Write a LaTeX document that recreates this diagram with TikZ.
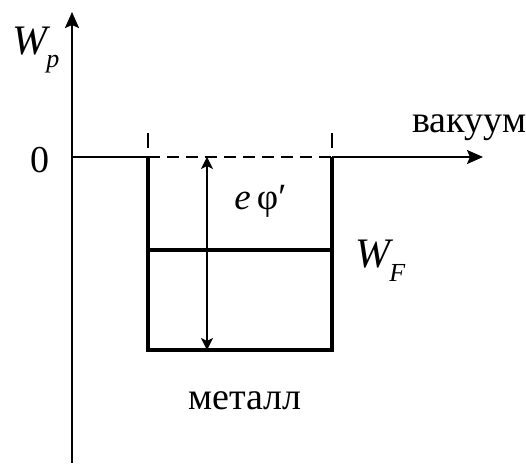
\documentclass[tikz,border=0pt]{standalone}
\usepackage{fontspec}
\setmainfont{Liberation Serif}
\usetikzlibrary{positioning, arrows.meta}
\newcommand{\lowidx}[2]{\raisebox{-#1}{\fontsize{13}{13}\selectfont\itshape #2}}

\begin{document}
\begin{tikzpicture}[
  x=0.5pt, y=-0.5pt,
  axis/.style={line width=1pt, -{Stealth[length=8pt, width=7pt, inset=1.5pt]}},
  wall/.style={line width=2pt},
  lbl/.style={inner sep=0pt, font=\fontsize{19}{22}\selectfont},
  sym/.style={inner sep=0pt, font=\fontsize{21}{24}\selectfont\itshape},
  ar/.style={line width=0.7pt,
             {Stealth[length=6pt, width=6pt, inset=1.5pt]}-{Stealth[length=6pt, width=6pt, inset=1.5pt]}},
]
  \useasboundingbox (0,0) rectangle (526,465);
  % axes
  \coordinate (o) at (72,157);
  \coordinate (ytop) at (72,12);
  \coordinate (ybot) at (72,463);
  \coordinate (xend) at (483,157);
  % well
  \coordinate (wl) at (148,157);
  \coordinate (wr) at (332,157);
  \coordinate (bl) at (148,350);
  \coordinate (br) at (332,350);
  \coordinate (fl) at (148,250);
  \coordinate (fr) at (330,250);
  \coordinate (tl) at (148,133);
  \coordinate (tlb) at (148,148);
  \coordinate (tr) at (332,133);
  \coordinate (trb) at (332,148);
  \coordinate (atop) at (207,157);
  \coordinate (abot) at (207,350);

  \draw[axis] (ybot) -- (ytop);
  \draw[line width=1pt] (o) -- (wl);
  \draw[axis] (wr) -- (xend);
  \draw[line width=1pt, dash pattern=on 6pt off 3.5pt] (wl) -- (wr);
  \draw[line width=0.8pt] (tl) -- (tlb) (tr) -- (trb);
  \draw[wall] (wl) -- (bl) -- (br) -- (wr);
  \draw[wall] (fl) -- (fr);
  \draw[ar] (abot) -- (atop);

  % labels
  \node[sym, anchor=base west] (wp) at (12,55) {W\kern-0.5pt\lowidx{6.5pt}{p}};
  \node[lbl, anchor=base] (zero) at (40,173) {0};
  \node[lbl, anchor=base west] (vac) at (412,133) {вакуум};
  \node[lbl, anchor=base west] (ephi) at (234,210) {\fontsize{18.5}{20}\selectfont\itshape e\,\upshape φ′};
  \node[sym, anchor=base west] (wf) at (355,268) {W\kern-0.5pt\lowidx{7pt}{F}};
  \node[lbl, anchor=base west] (met) at (188,409) {металл};
\end{tikzpicture}
\end{document}
